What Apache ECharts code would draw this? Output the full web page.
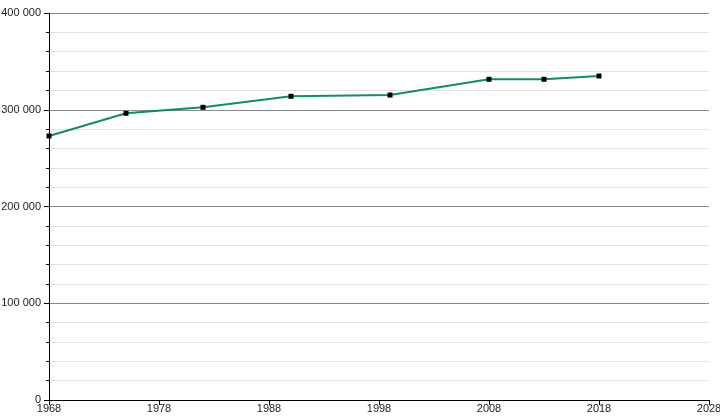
<!DOCTYPE html>
<html lang="fr">
  <head>
    <meta charset="UTF-8" />
    <script src="https://cdn.jsdelivr.net/npm/echarts@6/dist/echarts.min.js"></script>
    <title>Population</title>
    <style>
      html, body { margin: 0; padding: 0; background: #fff; }
      #app { width: 720px; height: 420px; }
    </style>
  </head>
  <body>
    <div id="app"></div>
    <script>
      // années de recensement et population
      const years = [1968, 1975, 1982, 1990, 1999, 2008, 2013, 2018];
      const population = [272900, 296300, 302500, 313900, 315200, 331500, 331500, 334900];

      const fmt = (v) => String(v).replace(/\B(?=(\d{3})+(?!\d))/g, " ");

      const chart = echarts.init(document.getElementById("app"));
      chart.setOption({
        animation: false,
        grid: { left: 49, right: 11, top: 13, bottom: 20, containLabel: false, outerBoundsMode: "none" },
        xAxis: {
          type: "value",
          min: 1968,
          max: 2028,
          interval: 10,
          axisLine: { lineStyle: { color: "#000", width: 1 } },
          axisTick: { show: true, length: 5, lineStyle: { color: "#000" } },
          axisLabel: {
            color: "#222",
            fontFamily: "Liberation Sans",
            fontSize: 11,
            margin: 3,
            formatter: (v) => String(v),
          },
          splitLine: { show: false },
        },
        yAxis: {
          type: "value",
          min: 0,
          max: 400000,
          interval: 100000,
          axisLine: { show: true, lineStyle: { color: "#000", width: 1 } },
          axisTick: { show: true, length: 5, lineStyle: { color: "#000" } },
          minorTick: { show: true, splitNumber: 5, length: 3, lineStyle: { color: "#000" } },
          axisLabel: {
            color: "#222",
            fontFamily: "Liberation Sans",
            fontSize: 11,
            margin: 8,
            formatter: fmt,
          },
          splitLine: { show: true, lineStyle: { color: "#8a8a8a", width: 1 } },
          minorSplitLine: { show: true, lineStyle: { color: "#e2e2e2", width: 1 } },
        },
        series: [
          {
            type: "line",
            data: years.map((y, i) => [y, population[i]]),
            symbol: "rect",
            symbolSize: 5,
            itemStyle: { color: "#000" },
            lineStyle: { color: "#138a68", width: 2 },
          },
        ],
      });
    </script>
  </body>
</html>
